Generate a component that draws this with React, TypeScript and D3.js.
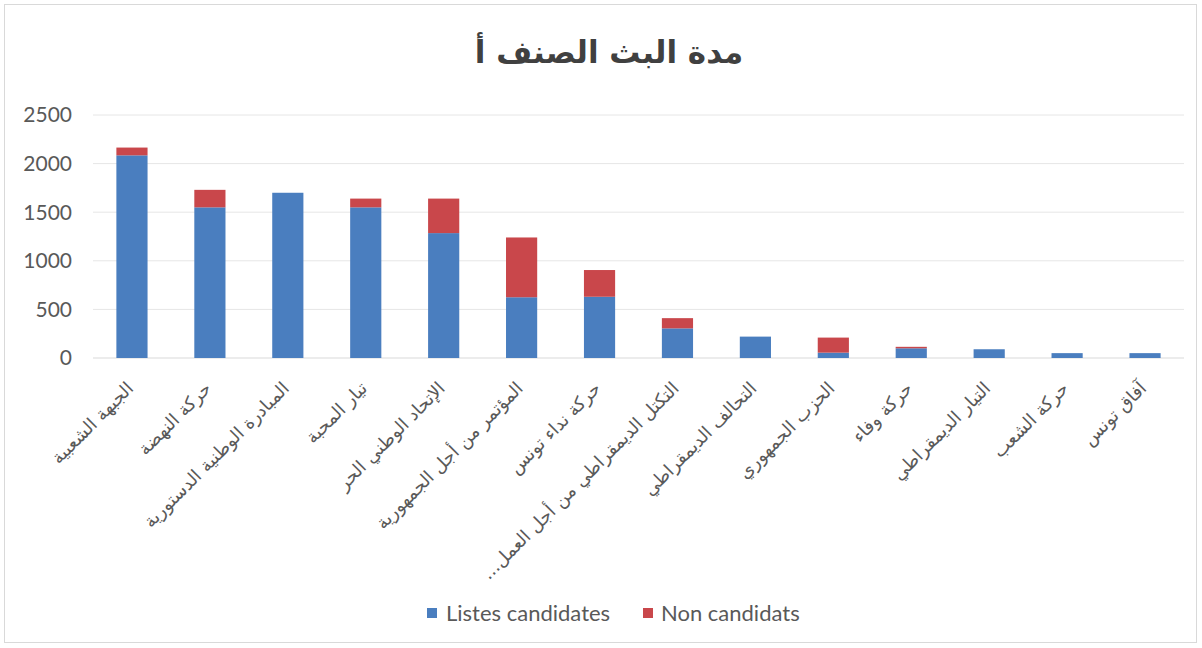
import React, { useEffect } from 'react';
import * as d3 from 'd3';

const categories = [
  "الجبهة الشعبية",
  "حركة النهضة",
  "المبادرة الوطنية الدستورية",
  "تيار المحبة",
  "الإتحاد الوطني الحر",
  "المؤتمر من أجل الجمهورية",
  "حركة نداء تونس",
  "التكتل الديمقراطي من أجل العمل...\u200F",
  "التحالف الديمقراطي",
  "الحزب الجمهوري",
  "حركة وفاء",
  "التيار الديمقراطي",
  "حركة الشعب",
  "آفاق تونس",
];
const listesCandidates = [2085, 1550, 1700, 1550, 1285, 625, 630, 305, 220, 55, 100, 90, 50, 50];
const nonCandidats = [80, 180, 0, 90, 355, 615, 275, 105, 0, 155, 15, 0, 0, 0];
const yTicks = [0, 500, 1000, 1500, 2000, 2500];
const seriesNames = ["Listes candidates", "Non candidats"];
const colors = ["#4a7ebf", "#c9474b"];

const W = 1202;
const H = 648;
const latin = "Lato, 'Open Sans', 'DejaVu Sans', sans-serif";
const arabic = "'DejaVu Sans', sans-serif";

export default function App() {
  useEffect(() => {
    document.body.style.margin = '0';
  }, []);

  const x = d3.scaleBand<string>()
    .domain(categories)
    .range([93, 1184])
    .paddingInner(0.6)
    .paddingOuter(0.3);
  const y = d3.scaleLinear().domain([0, 2500]).range([358, 115]);

  const rows = categories.map((c, i) => ({ cat: c, a: listesCandidates[i], b: nonCandidats[i] }));
  const stacked = d3.stack<any>().keys(["a", "b"])(rows);

  return (
    <svg width={W} height={H} style={{ display: 'block', background: '#fff' }}>
      <rect x={4.5} y={4.5} width={1192} height={638} fill="#fff" stroke="#d9d9d9" />
      <text x={609} y={63} textAnchor="middle" fontFamily={arabic} fontWeight="bold"
        fontSize={31} fill="#404040">مدة البث الصنف أ</text>

      {yTicks.map(t => (
        <g key={t}>
          <line x1={93} x2={1184} y1={y(t)} y2={y(t)} stroke={t === 0 ? "#d9d9d9" : "#e6e6e6"} strokeWidth={1} />
          <text x={72} y={y(t)} dy="0.35em" textAnchor="end" fontFamily={latin}
            fontSize={21} fill="#595959">{t}</text>
        </g>
      ))}

      {stacked.map((s, si) => (
        <g key={si} fill={colors[si]}>
          {s.map((d, i) => (
            <rect key={i} x={x(categories[i])} width={x.bandwidth()}
              y={y(d[1])} height={Math.max(0, y(d[0]) - y(d[1]))} />
          ))}
        </g>
      ))}

      {categories.map(c => {
        const cx = (x(c) as number) + x.bandwidth() / 2 - 2;
        return (
          <text key={c} transform={`translate(${cx},385) rotate(-45)`} textAnchor="end"
            dy="0.35em" fontFamily={arabic} fontSize={18} fill="#595959">{c}</text>
        );
      })}

      <g fontFamily={latin} fontSize={22} fill="#595959">
        <rect x={427} y={608} width={10} height={10} fill={colors[0]} />
        <text x={446} y={613} dy="0.35em">{seriesNames[0]}</text>
        <rect x={643} y={608} width={10} height={10} fill={colors[1]} />
        <text x={661} y={613} dy="0.35em">{seriesNames[1]}</text>
      </g>
    </svg>
  );
}
